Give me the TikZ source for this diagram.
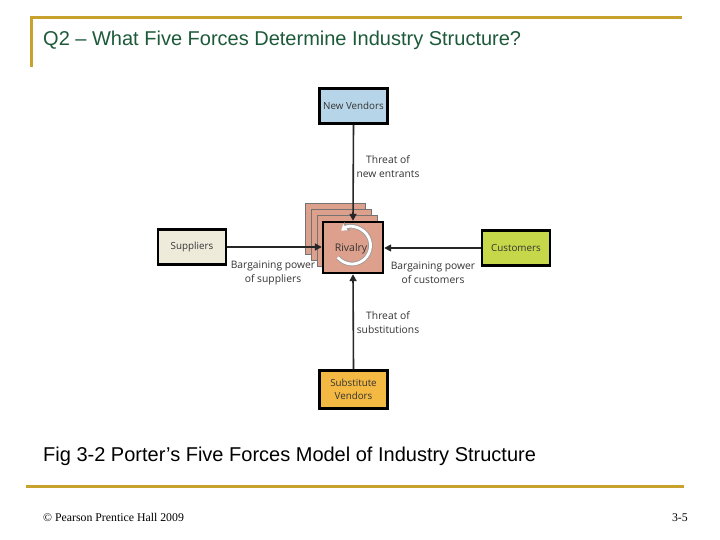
\documentclass[tikz,border=0pt]{standalone}
\usepackage{fontspec}
\setmainfont{Liberation Sans}
\newfontfamily\diagfont{Open Sans}
\newfontfamily\tmsfont{Liberation Serif}
\usetikzlibrary{arrows.meta}
\definecolor{gold}{HTML}{C8A22C}
\definecolor{titlegreen}{HTML}{1D5A3A}
\definecolor{nvblue}{HTML}{B7D5E8}
\definecolor{supcol}{HTML}{EFEBDB}
\definecolor{cuscol}{HTML}{C6D84A}
\definecolor{subcol}{HTML}{F4B942}
\definecolor{rivcol}{HTML}{DCA08C}
\tikzset{
  box/.style={draw=black, line width=2.4pt, minimum width=68pt, minimum height=35pt,
    inner sep=0pt, align=center, text=black!80, font=\diagfont\fontsize{9.8}{13}\selectfont},
  page/.style={draw=black!55, line width=0.6pt, fill=rivcol, minimum width=60pt, minimum height=51pt, inner sep=0pt},
  arr/.style={-{Triangle[length=7pt,width=7pt]}, line width=1.6pt, black!85},
  lbl/.style={align=center, text=black!80, font=\diagfont\fontsize{10.3}{14}\selectfont, inner sep=0pt},
  goldline/.style={draw=gold, line width=3pt},
}
\begin{document}
\begin{tikzpicture}[x=1pt,y=-1pt]
\useasboundingbox[fill=white] (0,0) rectangle (720,540);
% frame lines
\draw[goldline] (29.5,18) -- (682,18);
\draw[goldline] (31,16.5) -- (31,67);
\draw[goldline] (26,486) -- (684,486);
% title and caption
\node[anchor=base west, inner sep=0pt, text=titlegreen, font=\fontsize{20}{22}\selectfont] (title) at (43,46) {Q2 -- What Five Forces Determine Industry Structure?};
\node[anchor=base west, inner sep=0pt, text=black, font=\fontsize{20}{22}\selectfont] (caption) at (43,461) {Fig 3-2 Porter’s Five Forces Model of Industry Structure};
\node[anchor=base west, inner sep=0pt, font=\tmsfont\fontsize{11.8}{13}\selectfont] (foot) at (43,521) {© Pearson Prentice Hall 2009};
\node[anchor=base east, inner sep=0pt, font=\tmsfont\fontsize{11.8}{13}\selectfont] (pageno) at (688,521) {3-5};
% boxes
\node[box, fill=nvblue] (nv) at (353.5,106) {New Vendors};
\node[box, fill=supcol] (sup) at (192,247) {Suppliers};
\node[box, fill=cuscol] (cus) at (516,248) {Customers};
\node[box, fill=subcol, minimum height=38pt] (sub) at (353.5,389.5) {Substitute\\Vendors};
% stacked pages
\node[page] (p1) at (335,228.5) {};
\node[page] (p2) at (341,234.5) {};
\node[page] (p3) at (347,240.5) {};
\node[box, fill=rivcol, minimum width=60pt, minimum height=51pt] (riv) at (353,247.5) {};
% circular arrow
\draw[black!40, line width=4.4pt, -{Triangle[length=7pt,width=10pt]}] ([xshift=-1pt,yshift=2pt]riv.center) ++(140:18.5) arc[start angle=140, end angle=-125, radius=18.5];
\draw[white, line width=2.8pt, -{Triangle[length=5.5pt,width=7.5pt]}] ([xshift=-1pt,yshift=2pt]riv.center) ++(140:18.5) arc[start angle=140, end angle=-126, radius=18.5];
\node[inner sep=0pt, text=black!80, font=\diagfont\fontsize{10.5}{12}\selectfont] (rivtxt) at (351,249) {Rivalry};
% connectors
\draw[arr] (nv.south) -- (riv.north);
\draw[arr] (sup.east) -- (sup.east -| riv.west);
\draw[arr] (cus.west) -- (cus.west -| riv.east);
\draw[arr] (sub.north) -- (riv.south);
% labels
\node[lbl] (l1) at (388,167) {Threat of\\new entrants};
\node[lbl] (l2) at (273,273) {Bargaining power\\of suppliers};
\node[lbl] (l3) at (433,273) {Bargaining power\\of customers};
\node[lbl] (l4) at (388,323) {Threat of\\substitutions};
\end{tikzpicture}
\end{document}
